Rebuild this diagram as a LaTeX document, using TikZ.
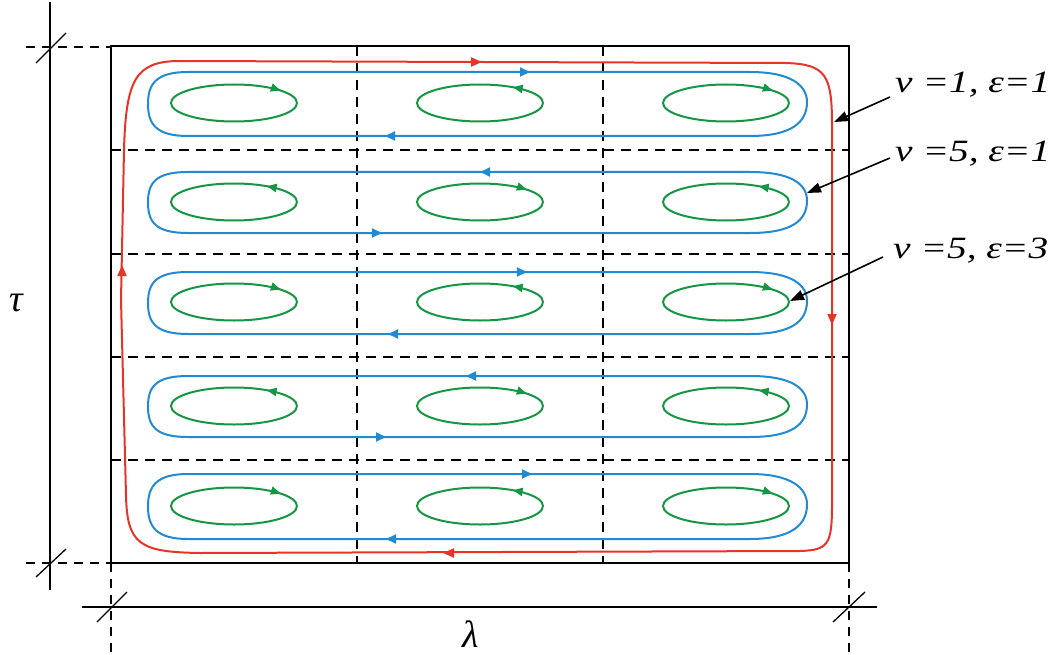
\documentclass[tikz,border=0pt]{standalone}
\usepackage{fontspec}
\setmainfont{Liberation Serif}
\usetikzlibrary{arrows.meta,decorations.markings}
\definecolor{redline}{RGB}{232,52,40}
\definecolor{blueline}{RGB}{32,138,210}
\definecolor{greenline}{RGB}{22,150,68}
\newcommand\bluerow[2]{%
  \pgfmathsetmacro\mmid{(#1+#2)/2}%
  \draw[bluec] (188,#1) -- (750,#1) .. controls (792,#1) and (807,{\mmid-18}) .. (807,{\mmid-2})
    .. controls (807,{\mmid+18}) and (792,#2) .. (750,#2) -- (188,#2)
    .. controls (156,#2) and (148,{\mmid+20}) .. (148,\mmid)
    .. controls (148,{\mmid-20}) and (156,#1) .. cycle;}
\newcommand\btip[3]{\draw[bluec,-{Triangle[length=10pt,width=9pt]}] (#1,#3) -- (#2,#3);}
\newcommand\gcw[2]{\draw[greenc,postaction={decorate},decoration={markings,mark=at position 0.922 with {\arrow{Triangle[length=10pt,width=8pt]}}}] ({#1+63},#2) arc[start angle=0,end angle=360,x radius=63,y radius=18.5];}
\newcommand\gccw[2]{\draw[greenc,postaction={decorate},decoration={markings,mark=at position 0.131 with {\arrow{Triangle[length=10pt,width=8pt]}}}] ({#1+63},#2) arc[start angle=0,end angle=-360,x radius=63,y radius=18.5];}
\newcommand\labtext[1]{\scalebox{1.27}[1]{#1}}
\begin{document}
\begin{tikzpicture}[x=1pt,y=-1pt,
  frame/.style={line width=1.8pt,black},
  gridline/.style={line width=1.8pt,black,dash pattern=on 10pt off 7pt},
  dim/.style={line width=1.3pt,black},
  ext/.style={line width=1.3pt,black,dash pattern=on 9pt off 7pt},
  redc/.style={line width=2pt,draw=redline},
  bluec/.style={line width=2pt,draw=blueline},
  greenc/.style={line width=2pt,draw=greenline},
  lab/.style={anchor=base west,inner sep=0pt,font=\itshape\fontsize{31}{34}\selectfont},
  labarrow/.style={line width=1.6pt,black,-{Triangle[length=14pt,width=10pt]}},
  sym/.style={inner sep=0pt,font=\itshape\fontsize{38}{42}\selectfont}]
\useasboundingbox (0,0) rectangle (1059,655);
\fill[white] (0,0) rectangle (1059,655);
% grid
\foreach \yy in {150,254,357,460} \draw[gridline] (111,\yy) -- (849,\yy);
\foreach \xx in {357,603} \draw[gridline] (\xx,46) -- (\xx,563);
\draw[frame] (111,46) rectangle (849,563);
% dimensions
\draw[dim] (50,2) -- (50,590);
\draw[ext] (26,47) -- (111,47);
\draw[ext] (26,563) -- (111,563);
\draw[dim] (36,63) -- (66,33);
\draw[dim] (36,577) -- (66,549);
\draw[dim] (82,607) -- (877,607);
\draw[ext] (111,563) -- (111,652);
\draw[ext] (849,563) -- (849,652);
\draw[dim] (97,622) -- (127,592);
\draw[dim] (833,622) -- (865,592);
\node[sym] (tau) at (16,303) {τ};
\node[sym,anchor=base] (lam) at (471,647) {λ};
% red loop
\draw[redc] (121,300) -- (124,150) .. controls (126,80) and (135,61) .. (180,61) -- (785,63)
  .. controls (826,64) and (832,75) .. (832,125) -- (832,505)
  .. controls (832,545) and (828,550) .. (800,551) -- (200,553)
  .. controls (140,552) and (127,545) .. (126,495) -- cycle;
\draw[redc,-{Triangle[length=11pt,width=9pt]}] (476,62) -- (482,62);
\draw[redc,-{Triangle[length=11pt,width=9pt]}] (832,318) -- (832,325);
\draw[redc,-{Triangle[length=11pt,width=9pt]}] (449,553) -- (443,553);
\draw[redc,-{Triangle[length=11pt,width=9pt]}] (122,272) -- (122,265);
% blue loops
\bluerow{72}{136}  \btip{526}{530}{72}  \btip{389}{385}{136}
\bluerow{172}{233} \btip{484}{480}{172} \btip{378}{382}{233}
\bluerow{272}{334} \btip{523}{527}{272} \btip{392}{388}{334}
\bluerow{376}{437} \btip{470}{466}{376} \btip{382}{386}{437}
\bluerow{474}{539} \btip{528}{532}{474} \btip{390}{386}{539}
% green loops
\gcw{234}{103}  \gccw{480}{103} \gcw{726}{103}
\gccw{234}{202} \gcw{480}{202}  \gccw{726}{202}
\gcw{234}{302}  \gccw{480}{302} \gcw{726}{302}
\gccw{234}{406} \gcw{480}{406}  \gccw{726}{406}
\gcw{234}{506}  \gccw{480}{506} \gcw{726}{506}
% labels
\node[lab] (l1) at (895,93) {\labtext{ν =1, ε=1}};
\node[lab] (l2) at (895,161) {\labtext{ν =5, ε=1}};
\node[lab] (l3) at (893,258) {\labtext{ν =5, ε=3}};
\coordinate (t1) at (834,122);
\coordinate (t2) at (807,193);
\coordinate (t3) at (790,301);
\draw[labarrow] ([shift={(-5,4)}]l1.base west) -- (t1);
\draw[labarrow] ([shift={(-5,-3)}]l2.base west) -- (t2);
\draw[labarrow] ([shift={(-10,-1)}]l3.base west) -- (t3);
\end{tikzpicture}
\end{document}
